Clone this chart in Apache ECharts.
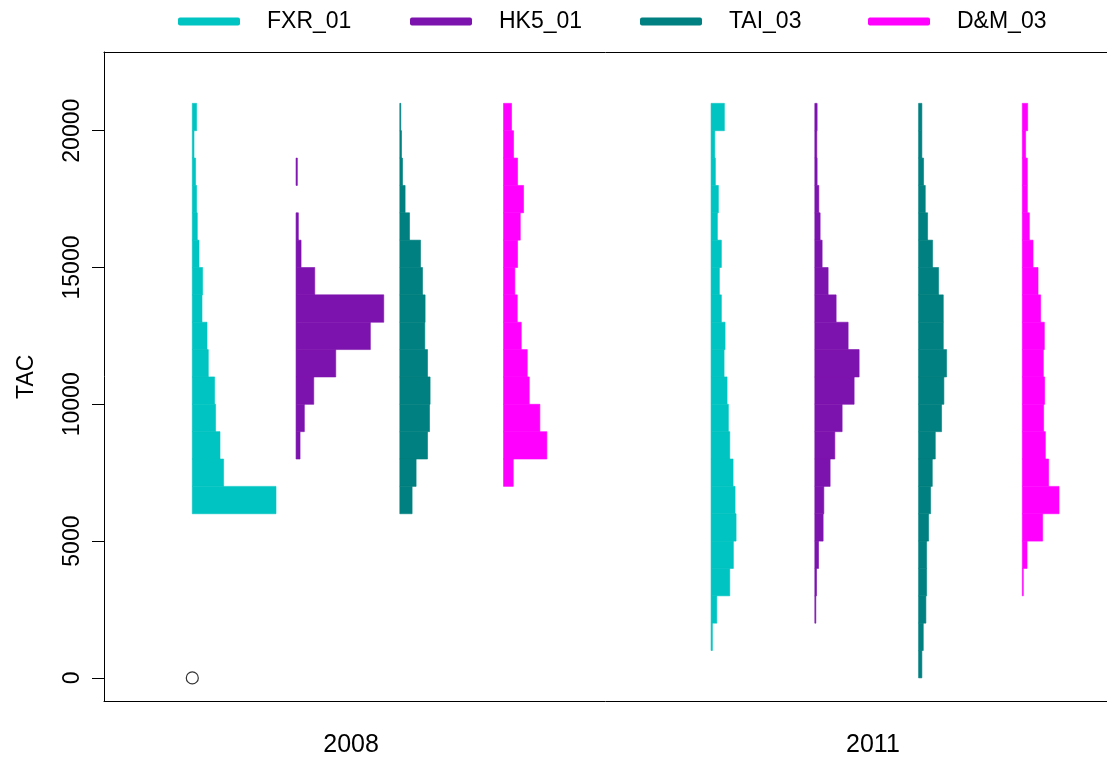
<!DOCTYPE html>
<html>
<head>
<meta charset="utf-8">
<script src="https://cdn.jsdelivr.net/npm/echarts@6/dist/echarts.min.js"></script>
<style>
html,body{margin:0;padding:0;background:#fff;}
#chart{width:1107px;height:760px;}
</style>
</head>
<body>
<div id="chart"></div>
<script>
// ---- data ----
const groups = ['FXR_01', 'HK5_01', 'TAI_03', 'D&M_03'];
const years = ['2008', '2011'];
const colors = ['#00C4C1', '#7D13AE', '#008080', '#FF00FF'];
const binSize = 1000;
const yTicks = [0, 5000, 10000, 15000, 20000];
// histogram bar lengths (relative frequency), listed from the top bin downward
const fxr2008Top = 21000;
const fxr2008 = [4.3, 1.7, 3.3, 4.3, 5, 6.7, 10.3, 9.7, 14.7, 16, 22.3, 23.3, 27.7, 31.3, 83.7];
const hk52008Top = 19000;
const hk52008 = [1.3, 0, 2.3, 5, 18.7, 87.7, 74.3, 39.7, 17.7, 8.3, 4];
const tai2008Top = 21000;
const tai2008 = [1, 1.7, 2.7, 5.3, 9.7, 20.7, 22.7, 25.3, 25, 27.7, 30.3, 29.7, 27.7, 16.3, 12.3];
const dm2008Top = 21000;
const dm2008 = [8, 10, 14, 20, 16.7, 14, 11.3, 13.7, 17.7, 23.7, 25.7, 36.3, 43.3, 9.7];
const fxr2011Top = 21000;
const fxr2011 = [13.3, 3.7, 4.3, 7.3, 6.3, 10.3, 8.3, 10.3, 14, 13, 16, 17.3, 18.7, 22, 24, 25, 22.3, 18.7, 5.7, 1.3];
const hk52011Top = 21000;
const hk52011 = [2.3, 2, 2.3, 4, 5.3, 7.3, 13.3, 21.3, 33.3, 44.3, 39.3, 27.3, 20, 15.3, 9, 8.3, 3.7, 1.7, 1];
const tai2011Top = 21000;
const tai2011 = [3.3, 3.3, 5, 6.7, 9, 14, 20, 24.7, 24.7, 28, 25.3, 23, 16.7, 13.7, 12, 10, 8, 8, 7.3, 4.7, 3.3];
const dm2011Top = 21000;
const dm2011 = [5.3, 3.3, 5, 5, 7, 10.7, 15.7, 18.3, 22, 21, 22.3, 21.3, 23, 26.3, 36.7, 20.3, 4.7, 1];
// single outlying point (FXR_01, 2008)
const outlierValues = [0];

const hist = {
  'FXR_01': [[fxr2008Top, fxr2008], [fxr2011Top, fxr2011]],
  'HK5_01': [[hk52008Top, hk52008], [hk52011Top, hk52011]],
  'TAI_03': [[tai2008Top, tai2008], [tai2011Top, tai2011]],
  'D&M_03': [[dm2008Top, dm2008], [dm2011Top, dm2011]]
};

// ---- layout helpers ----
const freqToX = 1 / 103.75;
function basePos(yearIdx, groupIdx) { return yearIdx * 5 + groupIdx + 1; }
const yearLabelPos = [2.53, 7.56];
const legendLeft = [178, 410, 640, 868];
const font = "'Liberation Sans', Arial, Helvetica, sans-serif";

const series = groups.map(function (g, gi) {
  const data = [];
  hist[g].forEach(function (h, yi) {
    const top = h[0], vals = h[1];
    vals.forEach(function (v, k) {
      if (v > 0) {
        const hi = top - k * binSize;
        data.push([basePos(yi, gi), hi - binSize, hi, v]);
      }
    });
  });
  return {
    name: g,
    type: 'custom',
    itemStyle: { color: colors[gi] },
    encode: { x: 0, y: [1, 2] },
    data: data,
    renderItem: function (params, api) {
      const x0 = api.value(0), lo = api.value(1), hi = api.value(2), w = api.value(3);
      const p1 = api.coord([x0, hi]);
      const p2 = api.coord([x0 + w * freqToX, lo]);
      return {
        type: 'rect',
        shape: { x: p1[0], y: p1[1], width: p2[0] - p1[0], height: p2[1] - p1[1] },
        style: { fill: colors[gi], stroke: colors[gi], lineWidth: 0.6 }
      };
    }
  };
});

series.push({
  type: 'scatter',
  symbol: 'circle',
  symbolSize: 12,
  itemStyle: { color: '#fff', borderColor: '#000', borderWidth: 1.2 },
  data: outlierValues.map(function (v) { return [basePos(0, 0), v]; }),
  z: 5
});

const chart = echarts.init(document.getElementById('chart'));
chart.setOption({
  animation: false,
  backgroundColor: '#fff',
  textStyle: { fontFamily: font, color: '#000' },
  legend: groups.map(function (g, i) {
    return {
      data: [{ name: g, itemStyle: { color: colors[i] } }],
      left: legendLeft[i],
      top: 10,
      padding: 0,
      icon: 'roundRect',
      itemWidth: 62,
      itemHeight: 8,
      textStyle: { fontSize: 23, color: '#000', fontFamily: font, padding: [0, 0, 0, 22] }
    };
  }),
  grid: { left: 104, top: 52, right: 0, bottom: 58.5, show: false },
  xAxis: [{
    type: 'value',
    min: 0.149, max: 9.816,
    axisLine: { show: true, onZero: false, lineStyle: { color: '#000', width: 1 } },
    axisTick: { show: false },
    splitLine: { show: false },
    axisLabel: {
      customValues: yearLabelPos,
      formatter: function (v) {
        let best = 0;
        yearLabelPos.forEach(function (p, i) { if (Math.abs(p - v) < Math.abs(yearLabelPos[best] - v)) best = i; });
        return years[best];
      },
      fontSize: 25, color: '#000', margin: 31, fontFamily: font
    }
  }, {
    type: 'value',
    position: 'top',
    min: 0.149, max: 9.816,
    axisLine: { show: true, onZero: false, lineStyle: { color: '#000', width: 1 } },
    axisTick: { show: false },
    axisLabel: { show: false },
    splitLine: { show: false }
  }],
  yAxis: {
    type: 'value',
    min: -863, max: 22877,
    name: 'TAC',
    nameLocation: 'middle',
    nameRotate: 90,
    nameGap: 66,
    nameTextStyle: { fontSize: 23, color: '#000', fontFamily: font },
    axisLine: { show: true, onZero: false, lineStyle: { color: '#000', width: 1 } },
    axisTick: { show: true, customValues: yTicks, length: 12, lineStyle: { color: '#000' } },
    splitLine: { show: false },
    axisLabel: {
      customValues: yTicks, rotate: 90, fontSize: 23, color: '#000', margin: 20, fontFamily: font,
      formatter: function (v) { return String(v); }
    }
  },
  series: series
});
</script>
</body>
</html>
